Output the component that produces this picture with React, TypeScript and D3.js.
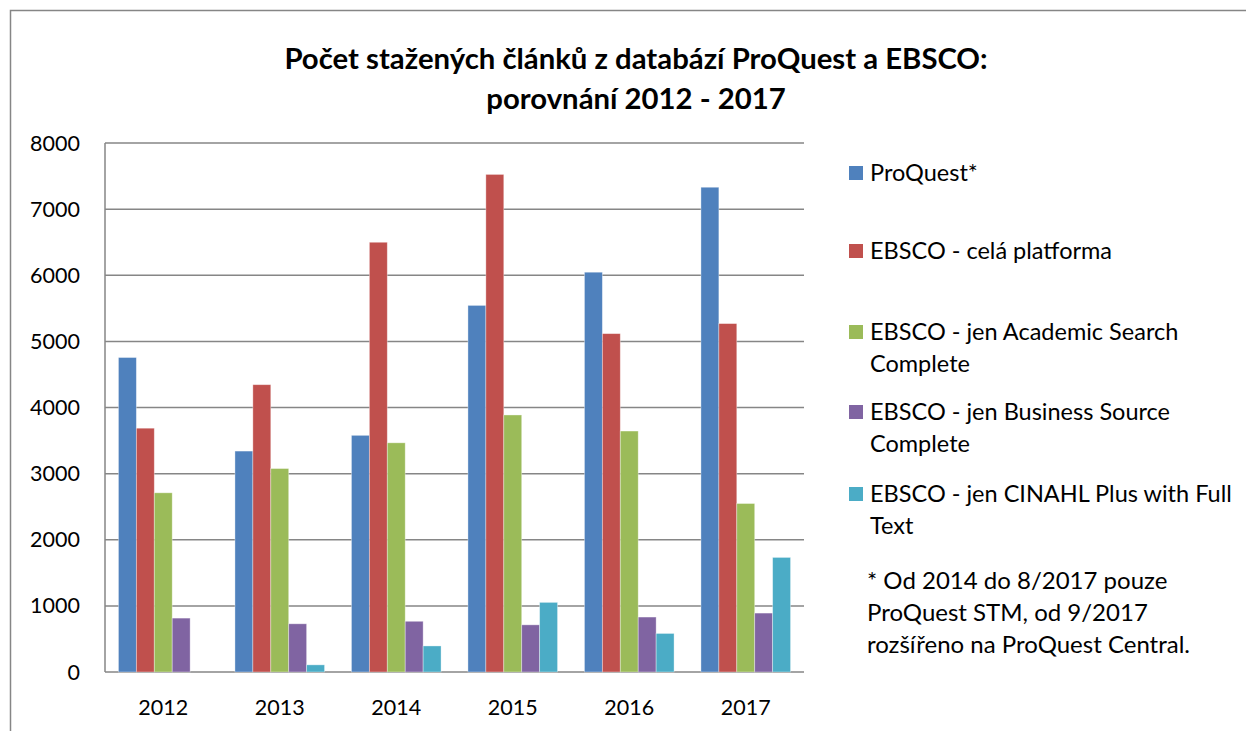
import React, { useEffect, useRef } from "react";
import * as d3 from "d3";

const years = ["2012", "2013", "2014", "2015", "2016", "2017"];
const seriesNames = [
  ["ProQuest*"],
  ["EBSCO - celá platforma"],
  ["EBSCO - jen Academic Search", "Complete"],
  ["EBSCO - jen Business Source", "Complete"],
  ["EBSCO - jen CINAHL Plus with Full", "Text"],
];
const proquest = [4756, 3341, 3579, 5544, 6046, 7331];
const ebscoAll = [3687, 4345, 6499, 7525, 5117, 5269];
const ebscoAcademic = [2710, 3077, 3466, 3887, 3644, 2548];
const ebscoBusiness = [815, 729, 767, 713, 831, 891];
const ebscoCinahl = [0, 108, 394, 1053, 583, 1733];
const colors = ["#4F81BD", "#C0504D", "#9BBB59", "#8064A2", "#4BACC6"];
const yTicks = [0, 1000, 2000, 3000, 4000, 5000, 6000, 7000, 8000];
const titleLines = ["Počet stažených článků z databází ProQuest a EBSCO:", "porovnání 2012 - 2017"];
const noteLines = ["* Od 2014 do 8/2017 pouze", "ProQuest STM, od 9/2017", "rozšířeno na ProQuest Central."];

function App() {
  const svgRef = useRef<SVGSVGElement>(null);
  const width = 1246;
  const height = 731;
  const plot = { left: 105, right: 804, top: 143, bottom: 672 };
  const font = "Lato, 'Open Sans', sans-serif";

  useEffect(() => {
    const svg = d3.select(svgRef.current);
    svg.selectAll("*").remove();

    const series = [proquest, ebscoAll, ebscoAcademic, ebscoBusiness, ebscoCinahl];

    // outer chart border
    svg
      .append("rect")
      .attr("x", 10.5)
      .attr("y", 10.5)
      .attr("width", width + 20)
      .attr("height", height + 20)
      .attr("fill", "#fff")
      .attr("stroke", "#868686")
      .attr("stroke-width", 1.5);

    // title
    svg
      .append("g")
      .selectAll("text")
      .data(titleLines)
      .enter()
      .append("text")
      .attr("x", 636)
      .attr("y", (_, i) => 69 + i * 40)
      .attr("text-anchor", "middle")
      .attr("font-family", font)
      .attr("font-weight", "bold")
      .attr("font-size", 29.3)
      .text(d => d);

    // --- Scales ---
    const x0 = d3.scaleBand().domain(years).range([plot.left, plot.right]);
    const barW = x0.bandwidth() / 6.5;
    const yScale = d3.scaleLinear().domain([0, 8000]).range([plot.bottom, plot.top]);

    // gridlines
    svg
      .append("g")
      .selectAll("line")
      .data(yTicks)
      .enter()
      .append("line")
      .attr("x1", plot.left)
      .attr("x2", plot.right)
      .attr("y1", d => yScale(d))
      .attr("y2", d => yScale(d))
      .attr("stroke", "#868686")
      .attr("stroke-width", 1.5);

    // y axis line + tick labels
    svg
      .append("line")
      .attr("x1", plot.left)
      .attr("x2", plot.left)
      .attr("y1", plot.top)
      .attr("y2", plot.bottom)
      .attr("stroke", "#868686")
      .attr("stroke-width", 1.5);

    svg
      .append("g")
      .selectAll("text")
      .data(yTicks)
      .enter()
      .append("text")
      .attr("x", 80)
      .attr("y", d => yScale(d))
      .attr("dy", "0.35em")
      .attr("text-anchor", "end")
      .attr("font-family", font)
      .attr("font-size", 21.5)
      .text(d => d);

    svg
      .append("g")
      .selectAll("text")
      .data(years)
      .enter()
      .append("text")
      .attr("x", d => x0(d)! + x0.bandwidth() / 2)
      .attr("y", 707)
      .attr("dy", "0.35em")
      .attr("text-anchor", "middle")
      .attr("font-family", font)
      .attr("font-size", 21.5)
      .text(d => d);

    // --- Bars ---
    series.forEach((vals, s) => {
      svg
        .append("g")
        .selectAll("rect")
        .data(vals)
        .enter()
        .append("rect")
        .attr("x", (_, i) => x0(years[i])! + barW * (0.75 + s))
        .attr("y", d => yScale(d))
        .attr("width", barW)
        .attr("height", d => yScale(0) - yScale(d))
        .attr("fill", colors[s])
        .attr("stroke", d => (d > 0 ? "rgba(255,255,255,0.45)" : "none"))
        .attr("stroke-width", 0.8);
    });

    // --- Legend ---
    const legendY = [173, 251, 332, 412, 494];
    const lg = svg.append("g");
    seriesNames.forEach((lines, s) => {
      lg.append("rect")
        .attr("x", 849)
        .attr("y", legendY[s] - 7)
        .attr("width", 14)
        .attr("height", 14)
        .attr("fill", colors[s]);
      lines.forEach((t, j) => {
        lg.append("text")
          .attr("x", 870)
          .attr("y", legendY[s] + j * 32)
          .attr("dy", "0.35em")
          .attr("font-family", font)
          .attr("font-size", 23.5)
          .text(t);
      });
    });
    noteLines.forEach((t, j) => {
      lg.append("text")
        .attr("x", 867)
        .attr("y", 581 + j * 32)
        .attr("dy", "0.35em")
        .attr("font-family", font)
        .attr("font-size", 24)
        .text(t);
    });
  }, []);

  return (
    <svg
      ref={svgRef}
      width={width}
      height={height}
      style={{ position: "absolute", left: 0, top: 0, background: "#fff" }}
    ></svg>
  );
}

export default App;
